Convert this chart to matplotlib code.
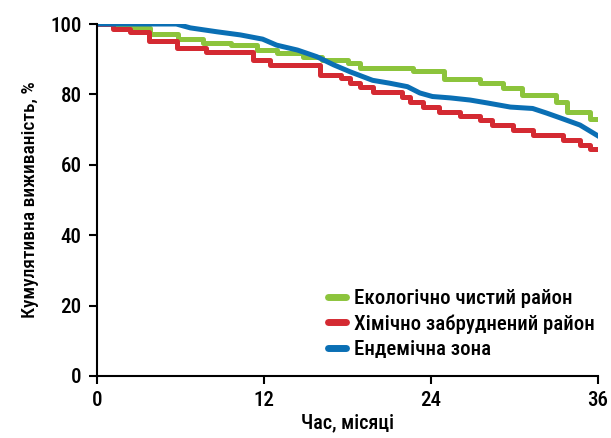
import matplotlib
matplotlib.use("Agg")
from matplotlib import pyplot as plt

plt.rcParams['font.family'] = ['Roboto Condensed', 'DejaVu Sans']

# Kaplan-Meier curves, months vs cumulative survival (%)
eco_t = [0, 2.2, 3.8, 5.8, 7.6, 9.6, 11.5, 12.9, 14.8, 16.2, 18.0, 18.9, 22.7, 24.9, 27.5, 29.2, 30.5, 33.0, 33.8, 35.4, 36]
eco_v = [100, 98.9, 97.2, 95.6, 94.6, 94.0, 92.6, 91.8, 90.7, 89.8, 88.9, 87.6, 86.6, 84.5, 83.2, 81.8, 79.8, 77.8, 75.0, 73.0, 73.0]

chem_t = [0, 1.15, 2.4, 3.7, 5.75, 7.8, 11.2, 12.4, 16.0, 17.5, 18.2, 18.9, 19.8, 21.9, 22.5, 23.4, 24.6, 26.1, 27.5, 28.4, 29.9, 31.3, 33.5, 34.7, 35.4, 36]
chem_v = [100, 98.6, 97.6, 95.2, 93.2, 92.0, 89.8, 88.4, 85.5, 84.6, 83.2, 82.0, 80.7, 79.3, 77.8, 76.4, 75.0, 74.0, 72.7, 71.3, 69.9, 68.5, 67.0, 65.6, 64.5, 64.5]

end_t = [0, 5.7, 6.7, 8.6, 10.3, 11.9, 12.9, 14.4, 15.8, 17.0, 18.2, 19.8, 21.0, 22.3, 23.2, 24.1, 25.4, 26.8, 28.0, 29.7, 31.3, 32.3, 33.3, 34.7, 36]
end_v = [100, 100, 98.9, 97.8, 96.9, 95.7, 94.0, 92.6, 90.7, 88.4, 86.4, 84.0, 83.2, 82.2, 80.4, 79.4, 79.0, 78.4, 77.6, 76.4, 76.0, 74.7, 73.3, 71.3, 68.2]

labels = ['Екологічно чистий район', 'Хімічно забруднений район', 'Ендемічна зона']
colors = ['#8cc43c', '#d42a32', '#0a6fb4']

fig = plt.figure(figsize=(6.11, 4.38), dpi=100)
ax = fig.add_axes([0.1588, 0.1416, 0.82, 0.8036])

ax.plot(eco_t, eco_v, drawstyle='steps-post', color=colors[0], lw=3.6, label=labels[0])
ax.plot(chem_t, chem_v, drawstyle='steps-post', color=colors[1], lw=3.6, label=labels[1])
ax.plot(end_t, end_v, color=colors[2], lw=3.6, label=labels[2])

ax.set_xlim(0, 36)
ax.set_ylim(0, 100)
ax.set_xticks([0, 12, 24, 36])
ax.set_yticks([0, 20, 40, 60, 80, 100])
for s in ['top', 'right']:
    ax.spines[s].set_visible(False)
for s in ['left', 'bottom']:
    ax.spines[s].set_linewidth(1.5)
ax.tick_params(width=1.5, length=6, labelsize=15, pad=5)
for lab in ax.get_xticklabels() + ax.get_yticklabels():
    lab.set_fontweight('medium')
ax.set_xlabel('Час, місяці', fontsize=14.5, labelpad=2, fontweight='medium')
ax.set_ylabel('Кумулятивна виживаність, %', fontsize=14, labelpad=8, fontweight='medium')

leg = ax.legend(loc='lower right', frameon=False, prop={'size': 15, 'weight': 'medium'},
                handlelength=0.9, handletextpad=0.35, labelspacing=0.3,
                bbox_to_anchor=(1.03, -0.005))
for h in leg.get_lines():
    h.set_linewidth(5)
    h.set_solid_capstyle('round')

plt.savefig('out.png', dpi=100)
